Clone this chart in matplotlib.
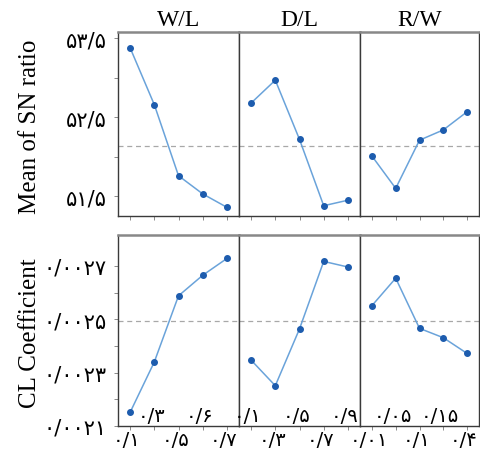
import numpy as np
import matplotlib
matplotlib.use("Agg")
import matplotlib.pyplot as plt

# factor names and level labels (Persian digits, as in the figure)
factors = ["W/L", "D/L", "R/W"]
level_labels = [
    ["۰/۱", "۰/۳", "۰/۵", "۰/۶", "۰/۷"],
    ["۰/۱", "۰/۳", "۰/۵", "۰/۷", "۰/۹"],
    ["۰/۰۱", "۰/۰۵", "۰/۱", "۰/۱۵", "۰/۴"],
]

# main effects: mean of SN ratio per level
sn_wl = [53.38, 52.66, 51.76, 51.53, 51.36]
sn_dl = [52.68, 52.97, 52.22, 51.38, 51.45]
sn_rw = [52.01, 51.60, 52.21, 52.34, 52.57]

# main effects: CL coefficient per level
cl_wl = [0.002151, 0.002340, 0.002588, 0.002665, 0.002728]
cl_dl = [0.002347, 0.002251, 0.002464, 0.002717, 0.002696]
cl_rw = [0.002551, 0.002654, 0.002466, 0.002431, 0.002372]

sn_ticks = [51.5, 52.0, 52.5, 53.0, 53.5]
sn_ticklabels = ["۵۱/۵", "", "۵۲/۵", "", "۵۳/۵"]
cl_ticks = [0.0021, 0.0022, 0.0023, 0.0024, 0.0025, 0.0026, 0.0027]
cl_ticklabels = ["۰/۰۰۲۱", "", "۰/۰۰۲۳", "", "۰/۰۰۲۵", "", "۰/۰۰۲۷"]

rows = [
    dict(data=[sn_wl, sn_dl, sn_rw], ylabel="Mean of SN ratio", ylim=(51.25, 53.58),
         ticks=sn_ticks, ticklabels=sn_ticklabels),
    dict(data=[cl_wl, cl_dl, cl_rw], ylabel="CL Coefficient", ylim=(0.0021, 0.002816),
         ticks=cl_ticks, ticklabels=cl_ticklabels),
]

serif = ["Liberation Serif", "DejaVu Serif"]
digits_font = ["DejaVu Sans"]
line_c = "#6aa3da"
mark_c = "#1d5cae"
frame_c = "#3a3a3a"

W, H = 481, 456
fig = plt.figure(figsize=(W / 100, H / 100), dpi=100)

col_x = [118, 239, 360, 479]
row_y = [(33, 217), (236, 427)]

for r, row in enumerate(rows):
    grand_mean = np.mean(np.concatenate([np.asarray(d) for d in row["data"]]))
    top, bot = row_y[r]
    for c in range(3):
        x0, x1 = col_x[c], col_x[c + 1]
        ax = fig.add_axes([x0 / W, 1 - bot / H, (x1 - x0) / W, (bot - top) / H])
        vals = row["data"][c]
        xs = np.arange(len(vals))
        ax.plot(xs, vals, color=line_c, lw=1.1, zorder=2)
        ax.plot(xs, vals, "o", color=mark_c, ms=4, zorder=3)
        ax.axhline(grand_mean, color="#a8a8a8", lw=0.9, ls=(0, (4, 3)), zorder=1)
        ax.set_xlim(-0.5, len(vals) - 0.5)
        ax.set_ylim(*row["ylim"])
        for s in ax.spines.values():
            s.set_color(frame_c)
            s.set_linewidth(1.0)
        ax.spines["top"].set_color("#888888")
        ax.spines["top"].set_linewidth(1.8)
        ax.set_xticks(xs)
        ax.tick_params(axis="x", length=3, width=0.6, color="#777777", labelbottom=False)
        ax.set_yticks(row["ticks"])
        if c == 0:
            ax.set_yticklabels(row["ticklabels"], family=digits_font, fontsize=15)
            ax.tick_params(axis="y", length=3, width=0.6, color="#777777", pad=5)
            ax.set_ylabel(row["ylabel"], family=serif, fontsize=18)
            ax.yaxis.set_label_coords(-0.64, 0.49)
        else:
            ax.tick_params(axis="y", left=False, labelleft=False)
        if r == 0:
            ax.set_title(factors[c], family=serif, fontsize=17, pad=5)
        else:
            # level labels alternate between inside and below the axis
            for i, lab in enumerate(level_labels[c]):
                g = c * 5 + i
                dy = -14 if g % 2 == 0 else 10
                ax.annotate(lab, (xs[i], 0), xycoords=ax.get_xaxis_transform(),
                            xytext=(-3, dy), textcoords="offset pixels",
                            ha="center", va="center", family=digits_font, fontsize=14)

fig.savefig("out.png", dpi=100)
